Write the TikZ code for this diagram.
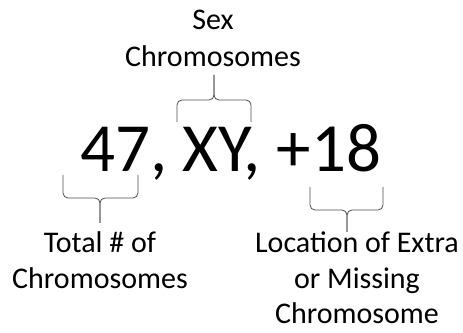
\documentclass[tikz,border=0pt]{standalone}
\usepackage{fontspec}
\setmainfont{Carlito}
\begin{document}
\begin{tikzpicture}[x=1pt,y=1pt,
  lbl/.style={anchor=base,inner sep=0pt,font=\fontsize{30}{36}\selectfont,text=black},
  big/.style={anchor=base,inner sep=0pt,font=\fontsize{69}{80}\selectfont,text=black},
  brc/.style={draw=black!70,line width=0.8pt,rounded corners=5pt}]
\useasboundingbox (0,0) rectangle (463,332);
% labels
\node[lbl] (sex) at (213,302) {Sex};
\node[lbl] (sexc) at (213,265) {Chromosomes};
\node[big] (kary) at (230.5,160) {47, XY, +18};
\node[lbl] (tot) at (100,79) {Total \# of};
\node[lbl] (totc) at (100,44) {Chromosomes};
\node[lbl] (loc) at (357,79) {Location of Extra};
\node[lbl] (locm) at (357,44) {or Missing};
\node[lbl] (locc) at (357,9) {Chromosome};
% brace coordinates
\coordinate (tA) at (177,210); \coordinate (tB) at (251,210); \coordinate (tT) at (214,257);
\coordinate (lA) at (63,157);  \coordinate (lB) at (138,157); \coordinate (lT) at (100,109);
\coordinate (rA) at (310,145); \coordinate (rB) at (383,145); \coordinate (rT) at (347,100);
% top brace
\draw[brc] (tA) -- (177,232) -- (214,232) -- (tT);
\draw[brc] (tB) -- (251,232) -- (214,232) -- (tT);
% left brace
\draw[brc] (lA) -- (63,134) -- (100,134) -- (lT);
\draw[brc] (lB) -- (138,134) -- (100,134) -- (lT);
% right brace
\draw[brc] (rA) -- (310,122) -- (347,122) -- (rT);
\draw[brc] (rB) -- (383,122) -- (347,122) -- (rT);
\end{tikzpicture}
\end{document}
